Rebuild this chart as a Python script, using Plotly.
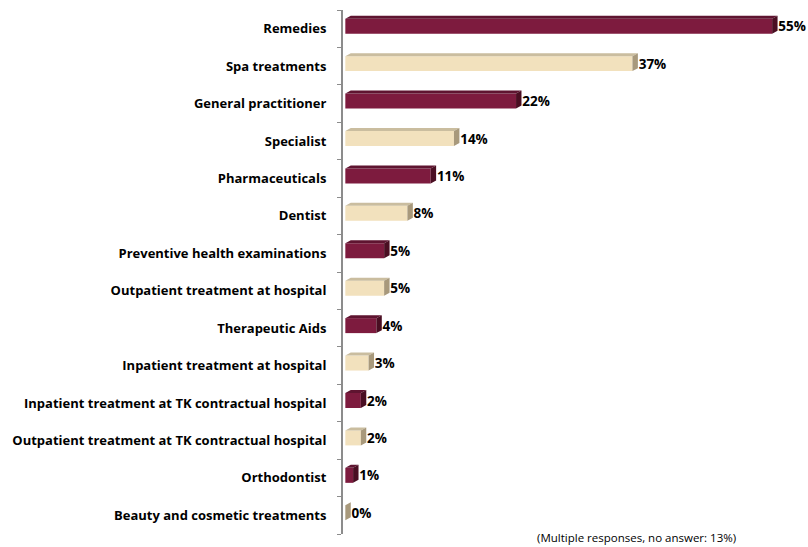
import plotly.graph_objects as go

categories = [
    "Remedies", "Spa treatments", "General practitioner", "Specialist",
    "Pharmaceuticals", "Dentist", "Preventive health examinations",
    "Outpatient treatment at hospital", "Therapeutic Aids",
    "Inpatient treatment at hospital",
    "Inpatient treatment at TK contractual hospital",
    "Outpatient treatment at TK contractual hospital",
    "Orthodontist", "Beauty and cosmetic treatments",
]
values = [55, 37, 22, 14, 11, 8, 5, 5, 4, 3, 2, 2, 1, 0]
labels = [f"{v}%" for v in values]
footnote = "(Multiple responses, no answer: 13%)"

# styles
FRONT = ["#7d1b3e", "#f2e1bd"]
TOP = ["#5f1430", "#cabd9f"]
SIDE = ["#4a0e22", "#a8997c"]
DX = 0.7       # depth in % units
DY = 0.08      # depth in category units
OFF = -0.267
W = 0.40
FONT = "Open Sans"

idx = list(range(len(categories)))
fig = go.Figure()

for c in (0, 1):
    ys = [i for i in idx if i % 2 == c]
    fig.add_trace(go.Bar(
        y=ys, x=[values[i] for i in ys], orientation="h",
        width=W, offset=OFF, marker=dict(color=FRONT[c], line=dict(width=0)),
        hoverinfo="skip", showlegend=False))
    tx, ty, sx, sy = [], [], [], []
    for i in ys:
        v = values[i]
        y0 = i + OFF
        y1 = i + OFF + W
        tx += [0, v, v + DX, DX, 0, None]
        ty += [y0, y0, y0 - DY, y0 - DY, y0, None]
        sx += [v, v + DX, v + DX, v, v, None]
        sy += [y0, y0 - DY, y1 - DY, y1, y0, None]
    fig.add_trace(go.Scatter(x=tx, y=ty, mode="lines", fill="toself",
                             fillcolor=TOP[c], line=dict(width=0),
                             hoverinfo="skip", showlegend=False))
    fig.add_trace(go.Scatter(x=sx, y=sy, mode="lines", fill="toself",
                             fillcolor=SIDE[c], line=dict(width=0),
                             hoverinfo="skip", showlegend=False))

fig.add_trace(go.Scatter(
    x=[v + DX + 0.1 for v in values], y=[i - 0.02 for i in idx], mode="text",
    text=labels, textposition="middle right",
    textfont=dict(family=FONT, size=13.5, color="#000000", weight="bold"),
    hoverinfo="skip", showlegend=False, cliponaxis=False))

L, R = 343, 5
xmax = (808 - L - R) / 7.76 - 0.3

fig.update_layout(
    width=808, height=547,
    margin=dict(l=L, r=R, t=10, b=13, autoexpand=False),
    paper_bgcolor="white", plot_bgcolor="white",
    font=dict(family=FONT, color="#000000"),
    xaxis=dict(range=[-0.3, xmax], visible=False, showgrid=False, zeroline=False),
    yaxis=dict(
        range=[13.5, -0.5], tickvals=idx, ticktext=categories,
        ticks="", showgrid=False, zeroline=False, automargin=False,
        showline=True, linecolor="#8c8c8c", linewidth=2,
        tickfont=dict(family=FONT, size=13, color="#000000", weight="bold"),
        ticklabelstandoff=12,
        minor=dict(tick0=0.5, dtick=1, ticks="outside", ticklen=4,
                   tickcolor="#8c8c8c", tickwidth=1, showgrid=False),
    ),
    annotations=[dict(
        text=footnote, xref="paper", yref="paper", x=0.637, y=-0.007,
        xanchor="center", yanchor="middle", showarrow=False,
        font=dict(family=FONT, size=11.5, color="#000000"))],
)

fig.write_html("out.html", config={"displayModeBar": False},
               post_script="document.body.style.margin='0';")
